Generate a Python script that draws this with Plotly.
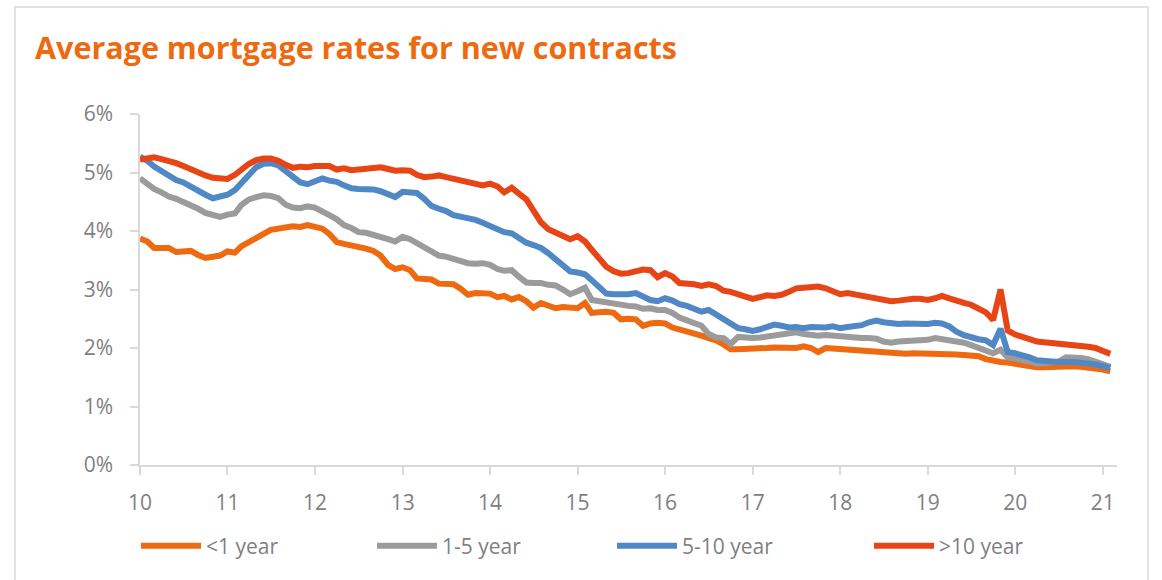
import pandas as pd
import plotly.graph_objects as go

# ---------------- data (monthly, Jan 2010 - Feb 2021) ----------------
start_month = "2010-01-01"

rate_lt1 = [
    3.87, 3.82, 3.71, 3.70, 3.71, 3.64, 3.65, 3.66, 3.59, 3.54, 3.56, 3.58,
    3.65, 3.63, 3.74, 3.82, 3.89, 3.95, 4.02, 4.04, 4.08, 4.08, 4.07, 4.10,
    4.07, 4.04, 3.95, 3.81, 3.78, 3.76, 3.73, 3.70, 3.66, 3.58, 3.42, 3.35,
    3.38, 3.33, 3.19, 3.19, 3.17, 3.10, 3.09, 3.09, 3.01, 2.91, 2.94, 2.94,
    2.93, 2.87, 2.89, 2.83, 2.87, 2.80, 2.69, 2.77, 2.72, 2.68, 2.70, 2.70,
    2.68, 2.77, 2.60, 2.61, 2.62, 2.60, 2.49, 2.50, 2.49, 2.38, 2.42, 2.43,
    2.42, 2.35, 2.31, 2.27, 2.25, 2.21, 2.17, 2.13, 2.06, 1.98, 1.98, 1.98,
    1.98, 1.99, 2.00, 2.01, 2.00, 1.99, 2.00, 2.03, 2.00, 1.93, 2.00, 1.99,
    1.98, 1.98, 1.97, 1.96, 1.95, 1.93, 1.91, 1.90, 1.89, 1.90, 1.91, 1.91,
    1.90, 1.91, 1.91, 1.90, 1.89, 1.88, 1.88, 1.86, 1.81, 1.78, 1.76, 1.75,
    1.73, 1.70, 1.67, 1.67, 1.67, 1.68, 1.69, 1.70, 1.69, 1.68, 1.67, 1.66,
    1.63, 1.60,
]

rate_1_5 = [
    4.90, 4.80, 4.72, 4.66, 4.59, 4.55, 4.50, 4.44, 4.38, 4.31, 4.27, 4.24,
    4.28, 4.30, 4.45, 4.54, 4.58, 4.61, 4.60, 4.56, 4.45, 4.40, 4.39, 4.42,
    4.40, 4.32, 4.27, 4.20, 4.10, 4.05, 3.98, 3.97, 3.94, 3.90, 3.86, 3.82,
    3.90, 3.86, 3.79, 3.72, 3.64, 3.58, 3.56, 3.52, 3.50, 3.45, 3.44, 3.45,
    3.42, 3.35, 3.32, 3.33, 3.22, 3.12, 3.11, 3.11, 3.08, 3.07, 3.00, 2.92,
    2.97, 3.03, 2.82, 2.80, 2.78, 2.74, 2.73, 2.72, 2.71, 2.67, 2.68, 2.65,
    2.65, 2.60, 2.52, 2.48, 2.42, 2.38, 2.24, 2.18, 2.17, 2.07, 2.19, 2.17,
    2.17, 2.18, 2.20, 2.21, 2.23, 2.26, 2.27, 2.24, 2.22, 2.21, 2.22, 2.21,
    2.18, 2.17, 2.17, 2.17, 2.17, 2.16, 2.11, 2.09, 2.11, 2.12, 2.13, 2.12,
    2.14, 2.17, 2.15, 2.12, 2.12, 2.09, 2.05, 2.00, 1.96, 1.91, 1.97, 1.84,
    1.82, 1.80, 1.77, 1.73, 1.74, 1.75, 1.77, 1.84, 1.84, 1.83, 1.81, 1.77,
    1.73, 1.68,
]

rate_5_10 = [
    5.27, 5.20, 5.10, 5.02, 4.92, 4.87, 4.83, 4.75, 4.67, 4.62, 4.56, 4.58,
    4.62, 4.70, 4.83, 4.98, 5.09, 5.15, 5.16, 5.12, 5.02, 4.92, 4.83, 4.80,
    4.86, 4.90, 4.86, 4.84, 4.78, 4.73, 4.72, 4.72, 4.71, 4.68, 4.63, 4.58,
    4.67, 4.67, 4.65, 4.55, 4.43, 4.38, 4.34, 4.27, 4.25, 4.23, 4.19, 4.14,
    4.09, 4.03, 3.98, 3.96, 3.89, 3.80, 3.76, 3.71, 3.62, 3.52, 3.43, 3.31,
    3.29, 3.26, 3.16, 3.03, 2.93, 2.92, 2.91, 2.92, 2.94, 2.88, 2.82, 2.80,
    2.85, 2.81, 2.75, 2.72, 2.68, 2.62, 2.65, 2.57, 2.48, 2.40, 2.34, 2.32,
    2.29, 2.32, 2.35, 2.40, 2.38, 2.35, 2.36, 2.34, 2.36, 2.35, 2.35, 2.37,
    2.34, 2.36, 2.37, 2.39, 2.44, 2.47, 2.44, 2.42, 2.41, 2.42, 2.41, 2.42,
    2.41, 2.43, 2.42, 2.37, 2.28, 2.22, 2.18, 2.15, 2.13, 2.05, 2.33, 1.93,
    1.91, 1.88, 1.84, 1.79, 1.77, 1.77, 1.76, 1.77, 1.76, 1.75, 1.74, 1.72,
    1.69, 1.66,
]

rate_gt10 = [
    5.22, 5.24, 5.26, 5.23, 5.20, 5.16, 5.11, 5.05, 5.00, 4.95, 4.91, 4.89,
    4.89, 4.96, 5.06, 5.15, 5.21, 5.24, 5.24, 5.20, 5.13, 5.08, 5.10, 5.09,
    5.11, 5.12, 5.11, 5.05, 5.07, 5.04, 5.05, 5.07, 5.09, 5.09, 5.06, 5.03,
    5.04, 5.03, 4.96, 4.92, 4.93, 4.95, 4.92, 4.89, 4.86, 4.84, 4.80, 4.78,
    4.81, 4.76, 4.66, 4.74, 4.64, 4.54, 4.35, 4.15, 4.03, 3.97, 3.90, 3.86,
    3.91, 3.82, 3.68, 3.52, 3.39, 3.31, 3.27, 3.28, 3.30, 3.34, 3.33, 3.21,
    3.28, 3.22, 3.11, 3.11, 3.09, 3.06, 3.09, 3.06, 2.98, 2.96, 2.93, 2.88,
    2.84, 2.88, 2.90, 2.89, 2.91, 2.96, 3.02, 3.03, 3.03, 3.05, 3.02, 2.98,
    2.92, 2.94, 2.92, 2.89, 2.88, 2.86, 2.82, 2.80, 2.81, 2.83, 2.84, 2.84,
    2.82, 2.85, 2.89, 2.85, 2.80, 2.77, 2.74, 2.68, 2.61, 2.48, 3.00, 2.30,
    2.23, 2.19, 2.15, 2.11, 2.10, 2.09, 2.07, 2.07, 2.06, 2.04, 2.02, 2.00,
    1.95, 1.90,
]

series_names = ["<1 year", "1-5 year", "5-10 year", ">10 year"]
series_colors = ["#EE6A10", "#9B9B9B", "#5088C5", "#E84516"]
series_values = [rate_lt1, rate_1_5, rate_5_10, rate_gt10]

tick_years = ["2010", "2011", "2012", "2013", "2014", "2015",
              "2016", "2017", "2018", "2019", "2020", "2021"]
tick_labels = ["10", "11", "12", "13", "14", "15", "16", "17", "18", "19", "20", "21"]
y_ticks = [0, 1, 2, 3, 4, 5, 6]
y_labels = ["0%", "1%", "2%", "3%", "4%", "5%", "6%"]

months = pd.date_range(start_month, periods=len(rate_lt1), freq="MS")

# ---------------- figure ----------------
legend_ids = ["legend", "legend2", "legend3", "legend4"]
legend_left_px = [136, 372, 612, 869]

fig = go.Figure()
for name, color, vals, lid in zip(series_names, series_colors, series_values, legend_ids):
    fig.add_trace(go.Scatter(
        x=months, y=vals, name=name, mode="lines",
        line=dict(color=color, width=6),
        hoverinfo="skip", legend=lid,
    ))

AXIS_GRAY = "#D9D9D9"
TEXT_GRAY = "#7F7F7F"

legend_common = dict(
    orientation="h",
    xref="container", xanchor="left",
    yref="container", y=1 - 546 / 580, yanchor="middle",
    font=dict(family="Open Sans", size=21, color=TEXT_GRAY),
    itemwidth=60,
    bgcolor="rgba(0,0,0,0)",
)
legend_layout = {
    lid: dict(legend_common, x=px / 1162)
    for lid, px in zip(legend_ids, legend_left_px)
}

fig.update_layout(
    width=1162, height=580,
    margin=dict(l=140, r=45, t=114, b=115, autoexpand=False),
    paper_bgcolor="white", plot_bgcolor="white",
    title=dict(
        text="<b>Average mortgage rates for new contracts</b>",
        font=dict(family="Open Sans", size=30.5, color="#EE6A10"),
        xref="container", x=35 / 1162, xanchor="left",
        yref="container", y=1 - 48 / 580, yanchor="middle",
    ),
    showlegend=True,
    xaxis=dict(
        type="date",
        range=["2010-01-01", "2021-03-01"],
        tickmode="array",
        tickvals=tick_years,
        ticktext=tick_labels,
        showgrid=False, zeroline=False,
        showline=True, linecolor=AXIS_GRAY, linewidth=1.5,
        ticks="outside", ticklen=8, tickcolor=AXIS_GRAY, tickwidth=1.5,
        tickfont=dict(family="Open Sans", size=21, color=TEXT_GRAY),
        ticklabelstandoff=10,
    ),
    yaxis=dict(
        range=[0, 6],
        tickmode="array",
        tickvals=y_ticks,
        ticktext=y_labels,
        showgrid=False, zeroline=False,
        showline=True, linecolor=AXIS_GRAY, linewidth=1.5,
        ticks="outside", ticklen=8, tickcolor=AXIS_GRAY, tickwidth=1.5,
        tickfont=dict(family="Open Sans", size=21, color=TEXT_GRAY),
        ticklabelstandoff=13,
    ),
    shapes=[dict(
        type="rect", xref="paper", yref="paper",
        x0=(15 - 140) / 977, x1=(1148 - 140) / 977,
        y0=(465 - 600) / 351, y1=(465 - 7) / 351,
        line=dict(color="#D9D9D9", width=1.5),
        fillcolor="rgba(0,0,0,0)", layer="below",
    )],
    **legend_layout,
)

fig.write_html(
    "out.html",
    config={"displayModeBar": False},
    post_script="document.body.style.margin='0';",
)
